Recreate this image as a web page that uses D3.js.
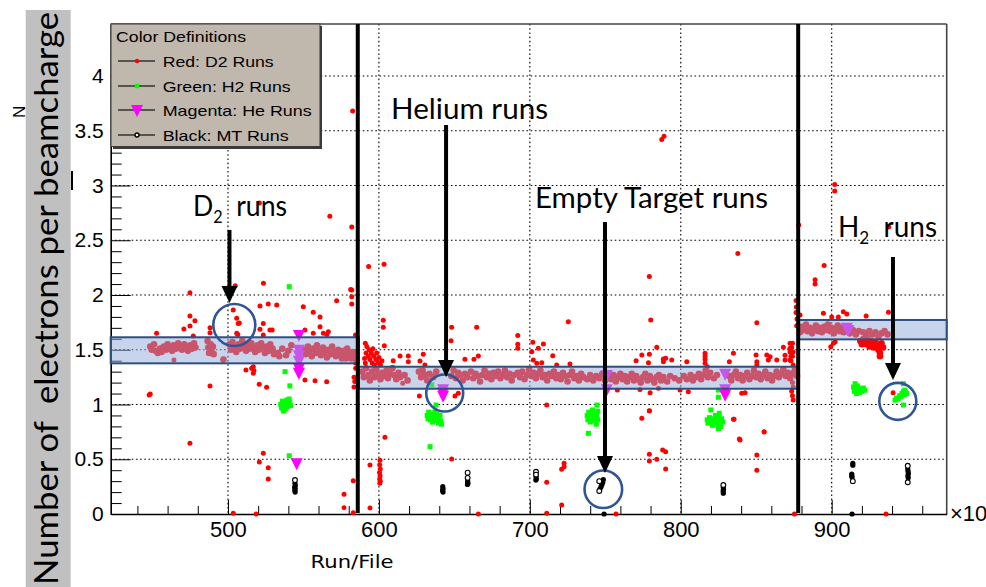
<!DOCTYPE html>
<html>
<head>
<meta charset="utf-8">
<script src="https://cdn.jsdelivr.net/npm/d3@7"></script>
<style>
  body { margin: 0; background: #fff; }
  svg { display: block; }
</style>
</head>
<body>
<svg id="chart" width="986" height="587"></svg>
<script>
// ---------- axis ranges and tick labels ----------
const xRange = [422.3, 976.2];
const yRange = [0, 4.475];
const xTickValues = [500, 600, 700, 800, 900];
const xTickLabels = ["500", "600", "700", "800", "900"];
const yTickValues = [0, 0.5, 1, 1.5, 2, 2.5, 3, 3.5, 4];
const yTickLabels = ["0", "0.5", "1", "1.5", "2", "2.5", "3", "3.5", "4"];

// ---------- D2 runs (red): [run/file (x10), N per beamcharge] ----------
const d2BandFirst = [
  [448.5,1.53],[449.5,1.50],[451,1.55],[452,1.49],[453.5,1.47],[455,1.51],[456,1.48],[457.5,1.53],
  [459,1.50],[460,1.55],[461.5,1.52],[463,1.49],[464,1.54],[465.5,1.51],[467,1.56],[468,1.52],
  [469.5,1.50],[471,1.55],[472,1.53],[473.5,1.49],[475,1.54],[476,1.51],[477.5,1.56],[478.5,1.52],
  [486.5,1.58],[487,1.52],[487.5,1.47],[488.5,1.55],[489,1.49],[490,1.53],[490.5,1.46],[497,1.41],
  [501,1.55],[502,1.50],[503,1.57],[504.5,1.52],[505.5,1.48],[507,1.55],[508,1.51],[509.5,1.58],
  [510.5,1.53],[512,1.49],[513,1.55],[514.5,1.51],[515.5,1.56],[517,1.52],[518,1.48],[519.5,1.54],
  [520.5,1.50],[522,1.56],[523,1.52],[524.5,1.47],[525.5,1.53],[527,1.49],[528,1.55],[529.5,1.51],
  [530.5,1.46],[533,1.47],[534,1.44],[536,1.51],[538.5,1.45],[540,1.49],[542,1.54],
  [550.5,1.50],[551.5,1.46],[553,1.53],[554,1.49],[555.5,1.44],[556.5,1.51],[558,1.47],[559,1.54],
  [560.5,1.49],[561.5,1.45],[563,1.52],[564,1.48],[565.5,1.43],[566.5,1.50],[568,1.46],[569,1.53],
  [570.5,1.48],[571.5,1.44],[573,1.50],[574,1.46],[575.5,1.42],[576.5,1.49],[578,1.45],[579,1.51],
  [580.5,1.46],[581.5,1.42],[583,1.48],[584,1.44],[585,1.41]
];
const d2BandSecond = [
  [589,1.30],[590,1.25],[591.5,1.33],[593,1.27],[594,1.22],[595.5,1.30],[597,1.25],[598,1.32],
  [599.5,1.27],[601,1.23],[602,1.29],[603.5,1.26],[605,1.31],[606,1.24],[607.5,1.28],[609,1.33],
  [610,1.27],[611.5,1.23],[613,1.29],[614,1.25],[617,1.27],[619,1.22],
  [626.5,1.30],[628,1.25],[629,1.31],[630.5,1.27],[632,1.22],[633.5,1.28],[636,1.25],[638,1.30],
  [648,1.26],[649.5,1.31],[651,1.24],[652.5,1.29],[654,1.27],[655.5,1.22],[657,1.28],[658.5,1.25],
  [661,1.30],[662.5,1.24],[664,1.28],[665.5,1.26],[667,1.21],[668.5,1.27],[670,1.31],[671.5,1.25],
  [673,1.28],[674.5,1.23],[676,1.29],[677.5,1.26],[679,1.30],[680.5,1.24],[682,1.27],[683.5,1.31],
  [685,1.25],[686.5,1.28],[688,1.22],[689.5,1.27],
  [692,1.29],[693.5,1.25],[695,1.30],[696.5,1.23],[698,1.27],[699.5,1.32],[701,1.26],[702.5,1.29],
  [704,1.24],[705.5,1.28],[707,1.31],[708.5,1.25],[710,1.27],[711.5,1.22],[713,1.28],[714.5,1.26],
  [716,1.30],[717.5,1.24],[719,1.27],[720.5,1.23],[722,1.29],[723.5,1.26],[725,1.21],[726.5,1.27],
  [728,1.30],[729.5,1.24],[731,1.26],[732.5,1.22],[734,1.28],[735.5,1.25],
  [738,1.23],[740,1.27],[742,1.22],[744,1.26],[746,1.24],[748,1.28],[750,1.22],[752,1.26],
  [754,1.23],[755.5,1.27],[757,1.21],[758.5,1.25],[760,1.28],[761.5,1.23],[763,1.26],[764.5,1.21],
  [766,1.25],[767.5,1.28],[769,1.22],[770.5,1.26],[772,1.23],[773.5,1.20],[775,1.25],[776.5,1.28],
  [778,1.22],[779.5,1.26],[781,1.23],[782.5,1.20],[784,1.25],[785.5,1.27],[787,1.22],[788.5,1.25],
  [791,1.21],[793,1.26],[796,1.24],[799,1.22],[802,1.26],[804,1.23],[806.5,1.27],[808,1.22],
  [810,1.25],[812,1.28],[813.5,1.23],[815,1.27],[816.5,1.31],[818,1.25],[819.5,1.29],[822,1.24],
  [824,1.27],[832,1.26],[833.5,1.22],[835,1.27],[836.5,1.30],[838,1.24],[839.5,1.27],[841,1.22],
  [842.5,1.26],[844,1.29],[845.5,1.23],[847,1.26],[848.5,1.31],[850,1.25],[851.5,1.28],[853,1.23],
  [854.5,1.27],[856,1.30],[857.5,1.24],[859,1.27],[860.5,1.22],[862,1.26],[863.5,1.30],[865,1.25],
  [866.5,1.28],[868,1.32],[869.5,1.26],[871,1.29],[872.5,1.24],[874,1.28],[875.5,1.31],[877,1.26]
];
const d2BandThird = [
  [879,1.66],[880,1.71],[881.5,1.68],[883,1.73],[884,1.67],[885.5,1.70],[887,1.65],[888,1.69],
  [889.5,1.72],[891,1.67],[892,1.70],[893.5,1.66],[895,1.71],[896,1.68],[897.5,1.73],[899,1.67],
  [900,1.70],[901.5,1.65],[903,1.69],[904,1.72],[905.5,1.67],[907,1.70],[908,1.66],[910,1.69],
  [912,1.65],[914,1.68],[916,1.64],[918,1.67],[921,1.66],[923,1.63],[925,1.67],[927,1.64],
  [929,1.66],[931,1.62],[933,1.65],[935,1.67],[937,1.64],
  [919,1.58],[920,1.55],[921,1.60],[922,1.57],[923,1.55],[924,1.59],[925,1.53],[926,1.58],
  [927,1.55],[928,1.52],[929,1.57],[930,1.54],[931,1.50],[932,1.47],[932,1.44],[933,1.56],[934,1.52]
];
const d2Scatter = [
  [582.6,3.68],[788.9,3.45],[787.4,3.42],[902,3.01],[902,2.95],[567.5,2.72],[582,2.62],[520.8,2.84],
  [878.1,2.64],[937.8,2.62],[837.8,2.38],[895,2.27],[593.2,2.26],[603.4,2.28],[779.2,2.17],
  [889,2.14],[889,2.10],[504.8,2.085],[523.5,2.107],[581.3,2.05],[474.8,2.02],
  [526.7,1.918],[532.3,1.909],[521.2,1.90],[474.8,1.808],[478.1,1.765],[474.8,1.717],[470.8,1.69],
  [477,1.626],[488.1,1.70],[488.1,1.656],[452.7,1.65],[503.5,1.863],[505.8,1.787],[506.8,1.74],
  [507.5,1.745],[505.8,1.65],[506.5,1.64],[523.4,1.74],[521.2,1.687],[527.8,1.68],[529.3,1.68],
  [523.4,1.635],[549.9,1.893],[556.5,1.842],[561,1.80],[561,1.71],[551,1.68],[556.5,1.65],
  [563.2,1.65],[566.5,1.665],[565.5,1.64],[572,1.948],[582,2.045],[582,1.985],[582,1.918],[584.5,1.635],
  [511.9,1.315],[515.7,1.33],[516.8,1.345],[517.2,1.31],[516.8,1.285],[488.1,1.169],[520.7,1.184],
  [525.6,1.157],[464.2,1.406],[447.8,1.087],[448.5,1.095],[551,1.224],[557.7,1.217],[565.4,1.208],
  [578.2,1.413],[584.5,1.38],[584.6,1.33],
  [474.8,0.645],[523.4,0.554],[520.8,0.475],[526.7,0.423],[526.7,0.32],[503.5,0.006],[518.6,0.0],
  [583,0.304],[576.9,0.18],[576.9,0.058],[583,0.012],[594.1,0.447],[594.1,0.055],[600.7,0.49],
  [600.5,0.45],[600.9,0.41],[600.4,0.38],[600.8,0.35],[600.5,0.32],[600.9,0.30],[600.6,0.28],
  [604,0.70],[648.2,0.502],[665.9,0.0],
  [602.9,1.705],[602.9,1.77],[648.2,1.705],[647.8,1.583],[664.8,1.705],[692,1.63],[692,1.55],
  [692,1.513],[702,1.568],[709,1.553],[701.3,1.482],[705.6,1.513],[715.2,1.446],[726.6,1.37],
  [717.8,1.36],[704.6,1.376],[707.9,1.382],[702.3,1.406],[725.5,1.756],[657,1.413],[663,1.413],
  [665.9,1.443],[614,1.443],[619.5,1.443],[619.5,1.39],[609.5,1.40],[629.4,1.458],[627.2,1.397],
  [630.5,1.36],[603.6,1.537],
  [591,1.56],[592,1.53],[593.5,1.50],[595,1.47],[596.5,1.44],[598,1.41],[599.5,1.38],[601,1.36],
  [591.5,1.47],[593,1.44],[594,1.41],[595.5,1.38],[597,1.36],[591,1.38],[590.5,1.42],[596,1.51],
  [598.5,1.47],[600,1.43],[602,1.40],[583.5,1.25],[583.5,1.16],[584,1.21],
  [615.8,1.194],[626.8,1.078],[650.4,1.078],[652.6,1.102],[711.2,0.995],[758,1.132],[779.7,1.108],
  [785.2,1.148],[799.5,1.132],[805,1.117],[773,1.138],[779.2,0.943],[774.2,0.874],[834.9,0.865],
  [840.4,1.102],[842.6,1.108],[855.2,0.752],[838.8,0.685],
  [780.1,1.772],[850.4,1.747],[784.1,1.522],[774.2,1.452],[779.2,1.458],[770.4,1.40],[778.6,1.382],
  [788.5,1.415],[790,1.422],[788.5,1.39],[794,1.406],[804,1.39],[816.1,1.467],[816.1,1.44],
  [816.1,1.41],[816.1,1.376],[817.6,1.345],[834.9,1.467],[832.2,1.39],[849.9,1.452],[850.4,1.39],
  [850.4,1.36],[857,1.452],[859.2,1.437],[858,1.406],[863.6,1.406],[868,1.522],[869.1,1.45],
  [869.1,1.406],[872.4,1.406],[872.4,1.559],[872.4,1.513],[872.4,1.48],[873,1.44],
  [874,1.56],[873.5,1.52],[874.5,1.48],[874,1.44],[873,1.40],[874.5,1.36],[874,1.20],[874.5,1.16],
  [873.5,1.12],[874,1.08],[874.5,1.04],
  [876.4,1.95],[876.6,1.89],[876.4,1.84],[877,1.78],[876.8,1.72],
  [711.2,0.29],[721.1,0.082],[711.2,0.006],[757.1,0.0],[722.7,0.463],[722.7,0.432],[721.1,0.408],
  [779.2,0.94],[779.2,0.545],[779.2,0.484],[784.1,0.50],[788,0.584],[790,0.569],[790,0.411],
  [835.3,0.865],[839.3,0.676],[855.2,0.749],[850.4,0.539],[850.4,0.40],[875.3,0.0],
  [894.5,1.833],[879,1.817],[900,1.80],[904.4,1.80],[907.7,1.847],[910,1.826],[922.8,1.808],
  [937.6,1.842],[902.3,1.574],[901.1,1.559],[899.4,1.528],[940.7,1.108],[936,0.0]
];

// ---------- H2 runs (green) ----------
const h2Runs = [
  [535,1.00],[535.5,0.97],[536,1.03],[536.5,0.95],[537,0.99],[537.5,1.02],[538,0.96],[538.5,1.00],
  [539,1.04],[539.5,0.98],[540,1.01],[540.5,1.05],[541,1.02],[541.5,0.99],[536,0.99],[537,0.94],
  [537.8,1.30],[541,1.17],[540.6,2.076],[540.6,0.532],
  [632,0.90],[632.5,0.87],[633,0.93],[633.5,0.89],[634,0.86],[634.5,0.91],[635,0.88],[635.5,0.84],
  [636,0.90],[636.5,0.87],[637,0.93],[637.5,0.89],[638,0.85],[638.5,0.91],[639,0.88],[639.5,0.83],
  [640,0.87],[640.5,0.90],[641,0.85],[641.5,0.82],[637.8,0.995],[635,1.18],[633.9,0.615],
  [738,0.90],[738.5,0.86],[739,0.93],[739.5,0.88],[740,0.84],[740.5,0.91],[741,0.87],[741.5,0.95],
  [742,0.89],[742.5,0.85],[743,0.92],[743.5,0.88],[744,0.82],[744.5,0.90],[745,0.86],[745,0.94],
  [744.5,0.995],[738.8,0.737],
  [817.5,0.86],[818,0.83],[819,0.88],[819.9,0.95],[820.5,0.85],[821,0.81],[822,0.87],[822.5,0.84],
  [823,0.90],[824,0.86],[824.5,0.82],[825,0.88],[825.5,0.92],[826,0.85],[826.5,0.80],[827,0.87],
  [828,0.84],[824.9,1.132],[824.9,1.066],[825,0.78],
  [914.5,1.16],[915,1.12],[915.5,1.19],[916,1.14],[916.5,1.10],[917,1.17],[917.5,1.13],[918,1.15],
  [918.5,1.11],[919,1.14],[920,1.12],[921,1.15],[922,1.13],
  [942,1.04],[943,1.06],[944,1.05],[945,1.08],[946,1.07],[946.5,1.10],[947.5,1.12],[948,1.09],
  [948.5,1.13],[949,1.11],[949.8,1.10],[947.5,1.19],[947.5,0.995]
];

// ---------- He runs (magenta) ----------
const heRuns = [
  [547,1.635],[547,1.50],[547,1.45],[547,1.40],[547,1.33],[547,1.29],[545.5,0.463],
  [642.5,1.14],[642.5,1.11],[642.5,1.08],
  [751,1.27],[751,1.14],
  [829.4,1.28],[829.4,1.14],[829.4,1.09],
  [911,1.68],[910,1.70]
];

// ---------- MT runs (black): filled and open markers ----------
const mtRunsFilled = [
  [544.4,0.28],[544.6,0.26],[544.2,0.245],[544.5,0.23],[544.3,0.215],[544.5,0.20],
  [642.3,0.25],[642.5,0.23],[642.2,0.215],[642.5,0.20],
  [658.8,0.30],[659,0.28],[658.7,0.27],
  [704.1,0.34],[704.3,0.32],[704,0.31],
  [748.7,0.315],[748.3,0.29],[747.8,0.27],[747.2,0.25],[746.5,0.23],[749.2,0.0],
  [828.2,0.245],[828.3,0.225],[828.1,0.21],[828.2,0.19],
  [914,0.463],[914,0.445],[913.3,0.365],[913.3,0.35],[913.5,0.335],[913.5,0.0],
  [950.4,0.41],[950.6,0.39],[950.8,0.37],[950.5,0.35],[950.7,0.33]
];
const mtRunsOpen = [
  [544.4,0.31],[658.8,0.377],[658.8,0.33],[704.1,0.386],[704.1,0.36],[746,0.30],[746,0.21],
  [828.2,0.265],[914,0.30],[950.4,0.44],[950.4,0.29]
];

// ---------- run-period bands, separators and annotations ----------
const periodBands = [
  { x0: 422.3, x1: 586.8, y0: 1.376, y1: 1.614 },
  { x0: 586.8, x1: 877.7, y0: 1.144, y1: 1.345 },
  { x0: 877.7, x1: 976.2, y0: 1.595, y1: 1.772 }
];
const periodSeparators = [586.0, 877.8];
const highlightCircles = [
  { x: 504.2, y: 1.726, r: 21 },
  { x: 643.6, y: 1.105, r: 18.5 },
  { x: 748.7, y: 0.226, r: 18.8 },
  { x: 943.8, y: 1.029, r: 18.5 }
];
const arrows = [
  { x: 501.0, yFrom: 2.594, yTo: 1.927 },
  { x: 644.5, yFrom: 3.553, yTo: 1.251 },
  { x: 749.8, yFrom: 2.667, yTo: 0.374 },
  { x: 940.6, yFrom: 2.347, yTo: 1.224 }
];

// ---------- chart ----------
const svg = d3.select("#chart");
const plot = { left: 110.7, right: 946.7, top: 24, bottom: 514 };
const x = d3.scaleLinear().domain(xRange).range([plot.left, plot.right]);
const y = d3.scaleLinear().domain(yRange).range([plot.bottom, plot.top]);
const tickFont = "'Liberation Sans', Arial, sans-serif";

svg.append("rect").attr("width", 986).attr("height", 587).attr("fill", "#fff");

// dotted grid at the major ticks
const grid = svg.append("g").attr("stroke", "#000").attr("stroke-width", 1.1)
  .attr("stroke-dasharray", "1.6,2.6");
grid.selectAll("line.gx").data(xTickValues).join("line")
  .attr("x1", d => x(d)).attr("x2", d => x(d)).attr("y1", plot.top).attr("y2", plot.bottom);
grid.selectAll("line.gy").data(yTickValues.filter(v => v > 0)).join("line")
  .attr("x1", plot.left).attr("x2", plot.right).attr("y1", d => y(d)).attr("y2", d => y(d));

// frame (top and right)
svg.append("line").attr("x1", plot.left).attr("x2", plot.right).attr("y1", plot.top).attr("y2", plot.top)
  .attr("stroke", "#444").attr("stroke-width", 1.6);
svg.append("line").attr("x1", plot.right).attr("x2", plot.right).attr("y1", plot.top).attr("y2", plot.bottom)
  .attr("stroke", "#444").attr("stroke-width", 1.6);

// axes with ticks drawn inwards
const xMinor = d3.range(440, 976, 20).filter(v => v % 100 !== 0);
const yMinor = d3.range(0.1, 4.45, 0.1).filter(v => Math.abs(v * 2 - Math.round(v * 2)) > 1e-6);

const xAxisG = svg.append("g").attr("transform", `translate(0,${plot.bottom})`);
xAxisG.append("g").call(d3.axisBottom(x).tickValues(xMinor).tickSize(-8).tickSizeOuter(0).tickFormat(""))
  .call(g => g.select(".domain").remove());
xAxisG.append("g").call(d3.axisBottom(x).tickValues(xTickValues).tickSize(-14).tickSizeOuter(0)
    .tickPadding(7).tickFormat((d, i) => xTickLabels[i]))
  .call(g => g.select(".domain").attr("stroke-width", 1.6))
  .call(g => g.selectAll("text").attr("font-size", 22).attr("font-family", tickFont).attr("fill", "#000"));

const yAxisG = svg.append("g").attr("transform", `translate(${plot.left},0)`);
yAxisG.append("g").call(d3.axisLeft(y).tickValues(yMinor).tickSize(-11).tickSizeOuter(0).tickFormat(""))
  .call(g => g.select(".domain").remove());
yAxisG.append("g").call(d3.axisLeft(y).tickValues(yTickValues).tickSize(-20).tickSizeOuter(0)
    .tickPadding(7).tickFormat((d, i) => yTickLabels[i]))
  .call(g => g.select(".domain").attr("stroke-width", 1.6))
  .call(g => g.selectAll("text").attr("font-size", 21).attr("font-family", tickFont).attr("fill", "#000"));

// exponent marker on the x axis
svg.append("text").attr("x", 950).attr("y", 521).attr("font-size", 22).attr("font-family", tickFont)
  .text("×10");

// x-axis title
svg.append("text").attr("x", x(582.2)).attr("y", 568).attr("text-anchor", "middle")
  .attr("font-family", "'DejaVu Sans', Verdana, sans-serif").attr("font-size", 17)
  .attr("textLength", 83).attr("lengthAdjust", "spacingAndGlyphs").text("Run/File");

// ---------- data points ----------
const pts = svg.append("g");
const bandRed = d2BandFirst.concat(d2BandSecond, d2BandThird);
pts.append("g").selectAll("circle").data(bandRed).join("circle")
  .attr("cx", d => x(d[0])).attr("cy", d => y(d[1])).attr("r", 3.3).attr("fill", "#ff0000");
pts.append("g").selectAll("circle").data(d2Scatter).join("circle")
  .attr("cx", d => x(d[0])).attr("cy", d => y(d[1])).attr("r", 2.5).attr("fill", "#ff0000");
pts.append("g").selectAll("rect").data(h2Runs).join("rect")
  .attr("x", d => x(d[0]) - 2.5).attr("y", d => y(d[1]) - 2.5).attr("width", 5).attr("height", 5)
  .attr("fill", "#00ff00");
const tri = (cx, cy) => `M${cx - 6},${cy - 5}L${cx + 6},${cy - 5}L${cx},${cy + 7}Z`;
pts.append("g").selectAll("path").data(heRuns).join("path")
  .attr("d", d => tri(x(d[0]), y(d[1]))).attr("fill", "#ff00ff");
pts.append("g").selectAll("circle").data(mtRunsFilled).join("circle")
  .attr("cx", d => x(d[0])).attr("cy", d => y(d[1])).attr("r", 2.6).attr("fill", "#000");
pts.append("g").selectAll("circle").data(mtRunsOpen).join("circle")
  .attr("cx", d => x(d[0])).attr("cy", d => y(d[1])).attr("r", 2.4).attr("fill", "#fff")
  .attr("stroke", "#000").attr("stroke-width", 1.1);

// ---------- translucent bands for each run period ----------
svg.append("g").selectAll("rect").data(periodBands).join("rect")
  .attr("x", d => x(d.x0)).attr("y", d => y(d.y1))
  .attr("width", d => x(d.x1) - x(d.x0)).attr("height", d => y(d.y0) - y(d.y1))
  .attr("fill", "rgb(145,170,215)").attr("fill-opacity", 0.5)
  .attr("stroke", "#2f4f7f").attr("stroke-width", 2);

// thick period separators
svg.append("g").selectAll("line").data(periodSeparators).join("line")
  .attr("x1", d => x(d)).attr("x2", d => x(d)).attr("y1", plot.top).attr("y2", plot.bottom - 1)
  .attr("stroke", "#000").attr("stroke-width", 4);

// highlight circles
svg.append("g").selectAll("circle").data(highlightCircles).join("circle")
  .attr("cx", d => x(d.x)).attr("cy", d => y(d.y)).attr("r", d => d.r)
  .attr("fill", "none").attr("stroke", "#2f5597").attr("stroke-width", 2.6);

// arrows
const ag = svg.append("g");
ag.selectAll("line").data(arrows).join("line")
  .attr("x1", d => x(d.x)).attr("x2", d => x(d.x)).attr("y1", d => y(d.yFrom)).attr("y2", d => y(d.yTo) - 12)
  .attr("stroke", "#000").attr("stroke-width", 4);
ag.selectAll("path").data(arrows).join("path")
  .attr("d", d => { const cx = x(d.x), ty = y(d.yTo); return `M${cx - 8},${ty - 17}L${cx + 8},${ty - 17}L${cx},${ty}Z`; })
  .attr("fill", "#000");

// annotation texts
const annFont = "Lato, 'Open Sans', sans-serif";
function label(xp, yp, txt, len) {
  return svg.append("text").attr("x", xp).attr("y", yp).attr("font-family", annFont)
    .attr("font-size", 28).attr("textLength", len).attr("lengthAdjust", "spacingAndGlyphs").text(txt);
}
// labels with a subscript 2 kept inside a single text element
function subLabel(xp, yp, head, tail, len) {
  const t = svg.append("text").attr("x", xp).attr("y", yp).attr("font-family", annFont)
    .attr("font-size", 28).attr("textLength", len).attr("lengthAdjust", "spacingAndGlyphs")
    .attr("xml:space", "preserve").style("white-space", "pre");
  t.append("tspan").text(head);
  t.append("tspan").attr("dy", 7).attr("font-size", 17).text("2");
  t.append("tspan").attr("dy", -7).text("  " + tail);
  return t;
}
subLabel(193, 216, "D", "runs", 94);
label(391, 119, "Helium runs", 157);
label(535, 208, "Empty Target runs", 233);
subLabel(838, 237, "H", "runs", 99);

// ---------- legend ----------
const lg = svg.append("g");
lg.append("rect").attr("x", 113).attr("y", 26).attr("width", 209).attr("height", 123).attr("fill", "#3a3a3a");
lg.append("rect").attr("x", 111).attr("y", 24).attr("width", 209).attr("height", 122.5)
  .attr("fill", "rgb(192,183,173)").attr("stroke", "#3a3a3a").attr("stroke-width", 1);
lg.append("text").attr("x", 116).attr("y", 41.5).attr("font-family", tickFont).attr("font-size", 15)
  .attr("textLength", 130).attr("lengthAdjust", "spacingAndGlyphs").text("Color Definitions");
const legendRows = [
  { y: 61, txt: "Red: D2 Runs", len: 111 },
  { y: 86, txt: "Green: H2 Runs", len: 128 },
  { y: 110, txt: "Magenta: He Runs", len: 149 },
  { y: 135, txt: "Black: MT Runs", len: 126 }
];
legendRows.forEach((r, i) => {
  lg.append("line").attr("x1", 118).attr("x2", 155).attr("y1", r.y).attr("y2", r.y)
    .attr("stroke", "#333").attr("stroke-width", 1.6);
  lg.append("text").attr("x", 162.7).attr("y", r.y + 5.5).attr("font-family", tickFont).attr("font-size", 15)
    .attr("textLength", r.len).attr("lengthAdjust", "spacingAndGlyphs").text(r.txt);
});
lg.append("circle").attr("cx", 137).attr("cy", legendRows[0].y).attr("r", 2.2).attr("fill", "#ff0000");
lg.append("rect").attr("x", 134.8).attr("y", legendRows[1].y - 2.2).attr("width", 4.4).attr("height", 4.4).attr("fill", "#00ff00");
lg.append("path").attr("d", tri(137, legendRows[2].y)).attr("fill", "#ff00ff");
lg.append("circle").attr("cx", 137).attr("cy", legendRows[3].y).attr("r", 2).attr("fill", "#fff")
  .attr("stroke", "#000").attr("stroke-width", 1.4);

// ---------- y-axis title ----------
svg.append("rect").attr("x", 25.7).attr("y", 10).attr("width", 45).attr("height", 577).attr("fill", "#c0c0c0");
svg.append("text").attr("transform", "translate(58,585) rotate(-90)")
  .attr("font-family", annFont).attr("font-size", 33)
  .attr("textLength", 573).attr("lengthAdjust", "spacingAndGlyphs")
  .attr("xml:space", "preserve").style("white-space", "pre")
  .text("Number of  electrons per beamcharge");
svg.append("text").attr("transform", "translate(25,118) rotate(-90)")
  .attr("font-family", tickFont).attr("font-size", 17).text("N");
svg.append("line").attr("x1", 72).attr("x2", 72).attr("y1", 171).attr("y2", 190)
  .attr("stroke", "#000").attr("stroke-width", 2);
</script>
</body>
</html>
